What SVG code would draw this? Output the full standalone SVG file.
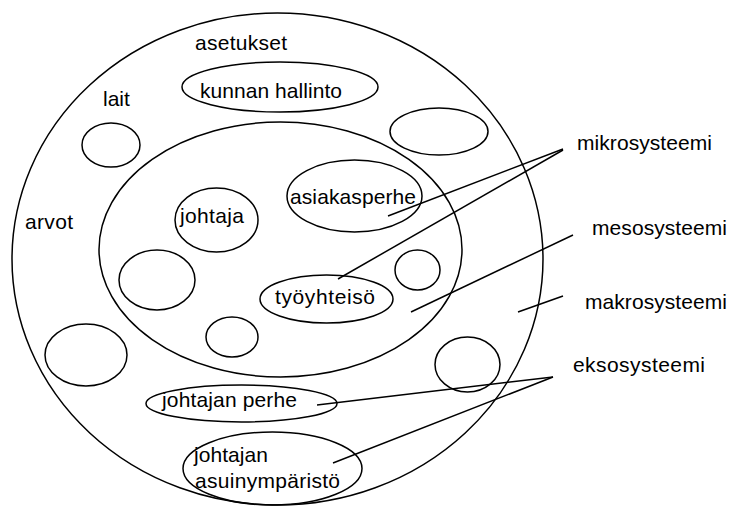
<svg xmlns="http://www.w3.org/2000/svg" width="730" height="509" viewBox="0 0 730 509">
<style>
.s{fill:none;stroke:#000;stroke-width:1.5}
.c line{stroke:#000;stroke-width:1.5}
text{font-family:"Liberation Sans",Arial,sans-serif;font-size:21px;fill:#000}
</style>
<rect width="730" height="509" fill="#fff"/>
<g id="makrosysteemi-circle"><ellipse class="s" cx="277.5" cy="259" rx="265.5" ry="246"/></g>
<g id="mesosysteemi-circle"><ellipse class="s" cx="280.5" cy="249.5" rx="181.5" ry="127.5"/></g>
<g id="asetukset"><text x="195" y="50" textLength="92">asetukset</text></g>
<g id="lait"><text x="103" y="106">lait</text></g>
<g id="arvot"><text x="25" y="229" textLength="48">arvot</text></g>
<g id="kunnan-hallinto"><ellipse class="s" cx="280" cy="87" rx="98" ry="25"/><text x="200" y="98" textLength="142">kunnan hallinto</text></g>
<g id="circle-lait"><ellipse class="s" cx="111" cy="145" rx="29" ry="22"/></g>
<g id="circle-topright"><ellipse class="s" cx="439" cy="131.5" rx="49" ry="23.5"/></g>
<g id="johtaja"><ellipse class="s" cx="216.5" cy="220" rx="41.5" ry="32"/><text x="180" y="223" textLength="64">johtaja</text></g>
<g id="asiakasperhe"><ellipse class="s" cx="354.5" cy="196" rx="67.5" ry="36"/><text x="290" y="204" textLength="126">asiakasperhe</text></g>
<g id="circle-inner-left"><ellipse class="s" cx="157" cy="280" rx="38" ry="30"/></g>
<g id="circle-inner-right"><ellipse class="s" cx="417.5" cy="270" rx="22.5" ry="20"/></g>
<g id="circle-inner-bottom"><ellipse class="s" cx="232" cy="337" rx="26" ry="20"/></g>
<g id="tyoyhteiso"><ellipse class="s" cx="326.5" cy="299" rx="66.5" ry="24"/><text x="275" y="304" textLength="100">työyhteisö</text></g>
<g id="circle-outer-left"><ellipse class="s" cx="86" cy="355" rx="41" ry="31"/></g>
<g id="circle-outer-right"><ellipse class="s" cx="467.5" cy="364.5" rx="32.5" ry="27.5"/></g>
<g id="johtajan-perhe"><ellipse class="s" cx="241.5" cy="403.5" rx="95.5" ry="18.5"/><text x="162" y="407" textLength="135">johtajan perhe</text></g>
<g id="johtajan-asuinymparisto"><ellipse class="s" cx="272.5" cy="468.5" rx="89.5" ry="36.5"/><text x="194" y="462" textLength="74">johtajan</text><text x="195" y="488" textLength="145">asuinympäristö</text></g>
<g id="mikrosysteemi"><text x="577" y="150" textLength="135">mikrosysteemi</text></g>
<g id="mesosysteemi"><text x="592" y="235" textLength="135">mesosysteemi</text></g>
<g id="makrosysteemi"><text x="585" y="309" textLength="142">makrosysteemi</text></g>
<g id="eksosysteemi"><text x="573" y="372" textLength="132">eksosysteemi</text></g>
<g id="connectors" class="c">
<line x1="563" y1="149" x2="388" y2="216"/>
<line x1="563" y1="150" x2="338" y2="279"/>
<line x1="573" y1="235" x2="411" y2="312"/>
<line x1="563" y1="296" x2="518" y2="312"/>
<line x1="553" y1="377" x2="317" y2="405"/>
<line x1="553" y1="377" x2="333" y2="463"/>
</g>
</svg>
